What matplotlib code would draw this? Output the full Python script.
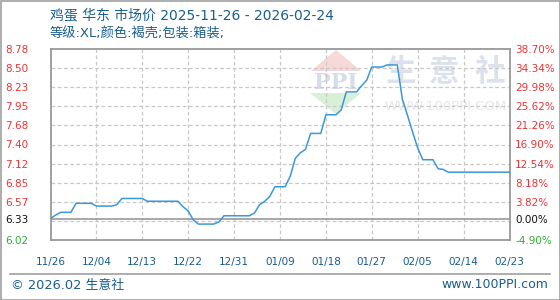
import matplotlib
matplotlib.use("Agg")
import matplotlib.pyplot as plt
from matplotlib.patches import Polygon, Rectangle
import numpy as np

# ---- data ----
days = list(range(91))
prices = [6.33, 6.38, 6.42, 6.42, 6.42, 6.55, 6.55, 6.55, 6.55, 6.51,
          6.51, 6.51, 6.51, 6.53, 6.62, 6.62, 6.62, 6.62, 6.62, 6.58,
          6.58, 6.58, 6.58, 6.58, 6.58, 6.58, 6.50, 6.44, 6.31, 6.25,
          6.25, 6.25, 6.25, 6.28, 6.37, 6.37, 6.37, 6.37, 6.37, 6.37,
          6.41, 6.53, 6.58, 6.65, 6.79, 6.79, 6.79, 6.94, 7.20, 7.28,
          7.33, 7.56, 7.56, 7.56, 7.83, 7.83, 7.83, 7.90, 8.16, 8.16,
          8.16, 8.25, 8.33, 8.52, 8.52, 8.52, 8.55, 8.55, 8.55, 8.05,
          7.82, 7.58, 7.35, 7.18, 7.18, 7.18, 7.05, 7.04, 7.00, 7.00,
          7.00, 7.00, 7.00, 7.00, 7.00, 7.00, 7.00, 7.00, 7.00, 7.00,
          7.00]
x_tick_pos = [0, 9, 18, 27, 36, 45, 54, 63, 72, 81, 90]
x_tick_labels = ["11/26", "12/04", "12/13", "12/22", "12/31", "01/09",
                 "01/18", "01/27", "02/05", "02/14", "02/23"]
base_price = 6.33
y_min, y_max = 6.02, 8.78
left_labels = ["8.78", "8.50", "8.23", "7.95", "7.68", "7.40", "7.12",
               "6.85", "6.57", "6.33", "6.02"]
right_labels = ["38.70%", "34.34%", "29.98%", "25.62%", "21.26%", "16.90%",
                "12.54%", "8.18%", "3.82%", "0.00%", "-4.90%"]
title1 = "鸡蛋 华东 市场价 2025-11-26 - 2026-02-24"
title2 = "等级:XL;颜色:褐壳;包装:箱装;"

FONTS = ["DejaVu Sans", "Noto Sans CJK SC"]
W, H = 560, 300
fig = plt.figure(figsize=(W / 100, H / 100), dpi=100)
fig.patch.set_facecolor("white")

def px(x, y):
    return x / W, 1 - y / H

# plot area
L, R, T, B = 50.5, 509.5, 49, 240
ax = fig.add_axes([L / W, 1 - B / H, (R - L) / W, (B - T) / H])
ax.set_facecolor("none")
ax.set_xlim(0, 90)
ax.set_ylim(y_min, y_max)

# grid positions (evenly spaced)
step = (y_max - y_min) / 10
grid_vals = [y_min + k * step for k in range(11)]
for k in range(1, 10):
    ax.axhline(grid_vals[k], color="#c8c8c8", lw=0.9, ls=(0, (3, 2)), zorder=1)
for xp in x_tick_pos[1:-1]:
    ax.axvline(xp, color="#c8c8c8", lw=0.9, ls=(0, (3, 2)), zorder=1)
ax.axhline(base_price, color="#999999", lw=1.2, zorder=2)

ax.plot(days, prices, color="#3a98d8", lw=1.1, zorder=3)

for s in ax.spines.values():
    s.set_color("#999999")
    s.set_linewidth(1.3)

# y tick values: labels at grids k>=2, baseline, bottom
ytick_vals = [grid_vals[k] for k in range(10, 1, -1)] + [base_price, y_min]
colors = ["#ee3333"] * 9 + ["#111111", "#33aa33"]
ax.set_yticks(ytick_vals)
ax.set_yticklabels(left_labels)
ax.tick_params(axis="y", length=0, pad=16, labelsize=7.5)
for lbl, c in zip(ax.get_yticklabels(), colors):
    lbl.set_color(c)

ax2 = ax.twinx()
ax2.set_ylim(y_min, y_max)
ax2.set_yticks(ytick_vals)
ax2.set_yticklabels(right_labels)
ax2.tick_params(axis="y", length=0, pad=4, labelsize=7.5)
for lbl, c in zip(ax2.get_yticklabels(), colors):
    lbl.set_color(c)
for s in ax2.spines.values():
    s.set_visible(False)

ax.set_xticks(x_tick_pos)
ax.set_xticklabels(x_tick_labels)
ax.tick_params(axis="x", length=0, pad=12, labelsize=7.5, labelcolor="#175c8c")

# watermark logo
wm = fig.add_axes([0, 0, 1, 1], zorder=-1)
wm.set_xlim(0, W)
wm.set_ylim(H, 0)
wm.axis("off")
wm.add_patch(Polygon([(336, 50), (311, 71), (361, 71)], closed=True,
                     fc="#f6d8d8", ec="none"))
wm.add_patch(Polygon([(310, 93), (361, 93), (336, 114)], closed=True,
                     fc="#d8f0d8", ec="none"))
wm.text(336, 83, "PPI", ha="center", va="center", fontsize=16,
        fontweight="bold", color="#d6dcea", family="DejaVu Serif")
for ch, cx in zip("生意社", [400, 444, 490]):
    wm.text(cx, 72, ch, ha="center", va="center", fontsize=22,
            fontweight="bold", color="#dde1ec", family="Noto Sans CJK SC")
wm.text(446, 106, "WWW.100PPI.COM", ha="center", va="center", fontsize=9.5,
        color="#e6e6ea", family="DejaVu Sans")
# frame & separator
wm.add_patch(Rectangle((0.5, 0.5), W - 1, H - 1, fill=False, ec="#a0a0a0", lw=1.2))
wm.plot([10, 550], [274, 274], color="#a0a0a0", lw=1.2)

# titles
fig.text(*px(50, 15), title1, ha="left", va="center", fontsize=10,
         color="#1a5e8e", family=FONTS)
fig.text(*px(50, 34), title2, ha="left", va="center", fontsize=9.5,
         color="#1a5e8e", family=FONTS)
fig.text(*px(11, 286), "© 2026.02 生意社", ha="left", va="center", fontsize=9.3,
         color="#1a5e8e", family=FONTS)
fig.text(*px(548, 285), "www.100PPI.com", ha="right", va="center", fontsize=9,
         color="#1a5e8e", family=FONTS)

fig.savefig("out.png", dpi=100)
